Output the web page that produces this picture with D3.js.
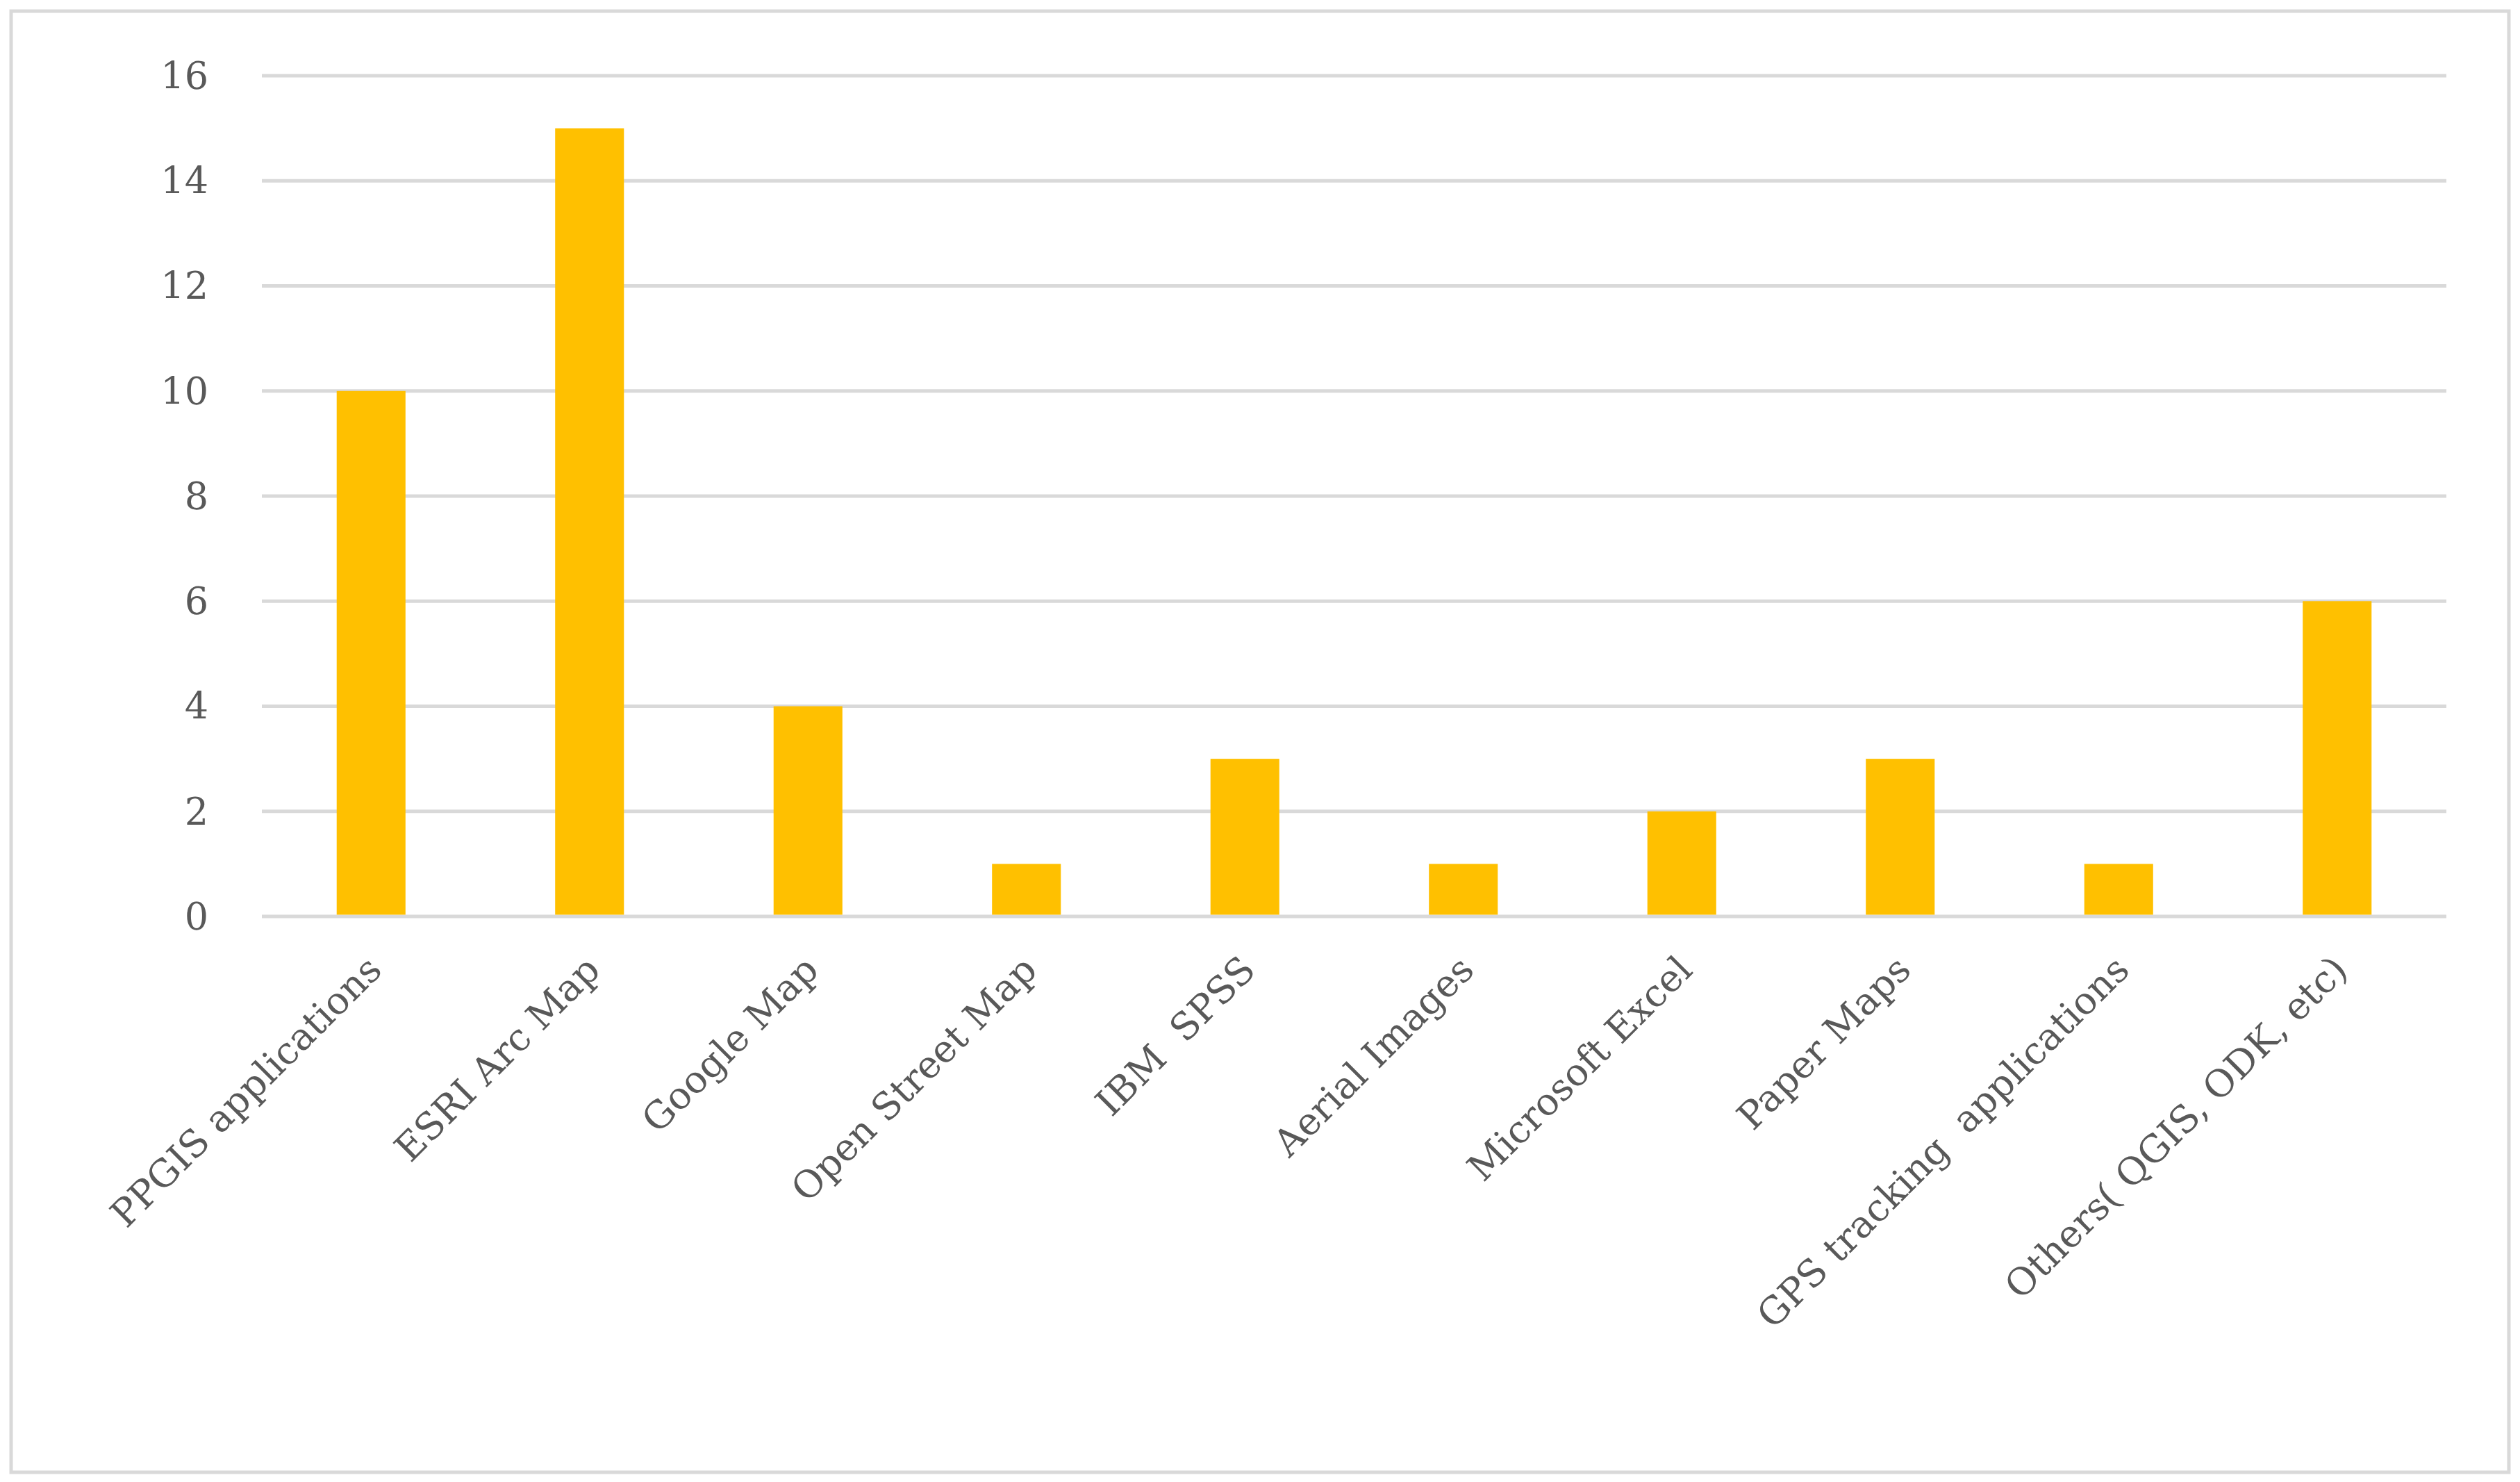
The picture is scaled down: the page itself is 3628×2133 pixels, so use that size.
<!DOCTYPE html>
<html><head><meta charset="utf-8">
<script src="https://cdn.jsdelivr.net/npm/d3@7"></script>
<style>body{margin:0;background:#fff}</style></head>
<body><svg id="c" width="3628" height="2133"></svg>
<script>
const categories = ["PPGIS applications","ESRI Arc Map","Google Map","Open Street Map","IBM  SPSS","Aerial Images","Microsoft Excel","Paper Maps","GPS tracking  applications","Others( QGIS, ODK, etc)"];
const values = [10,15,4,1,3,1,2,3,1,6];
const yTicks = [0,2,4,6,8,10,12,14,16];

const svg = d3.select("#c");
const W=3628,H=2133;
svg.append("rect").attr("x",16).attr("y",16).attr("width",W-32).attr("height",H-30)
  .attr("fill","#fff").attr("stroke","#D9D9D9").attr("stroke-width",5);
const pLeft=377,pRight=3522,pTop=109,pBottom=1319;
const x=d3.scaleBand().domain(categories).range([pLeft,pRight]).paddingInner(0.685).paddingOuter(0.3425);
const y=d3.scaleLinear().domain([0,16]).range([pBottom,pTop]);
const font="'DejaVu Serif', serif";
svg.append("g").selectAll("line").data(yTicks).join("line")
  .attr("x1",pLeft).attr("x2",pRight).attr("y1",d=>y(d)).attr("y2",d=>y(d))
  .attr("stroke","#D9D9D9").attr("stroke-width",5);
svg.append("g").selectAll("text").data(yTicks).join("text")
  .attr("x",300).attr("y",d=>y(d)).attr("dy","0.35em").attr("text-anchor","end")
  .attr("font-family",font).attr("font-size",54).attr("fill","#595959").text(d=>d);
svg.append("g").selectAll("rect").data(values).join("rect")
  .attr("x",(d,i)=>x(categories[i])).attr("width",x.bandwidth())
  .attr("y",d=>y(d)).attr("height",d=>y(0)-y(d)-2.5).attr("fill","#FFC000");
svg.append("g").selectAll("text").data(categories).join("text")
  .attr("transform",d=>`translate(${x(d)+x.bandwidth()/2+18},${pBottom+80}) rotate(-45)`)
  .attr("text-anchor","end").attr("font-family",font).attr("font-size",54)
  .attr("fill","#595959").style("white-space","pre").text(d=>d);
</script></body></html>
